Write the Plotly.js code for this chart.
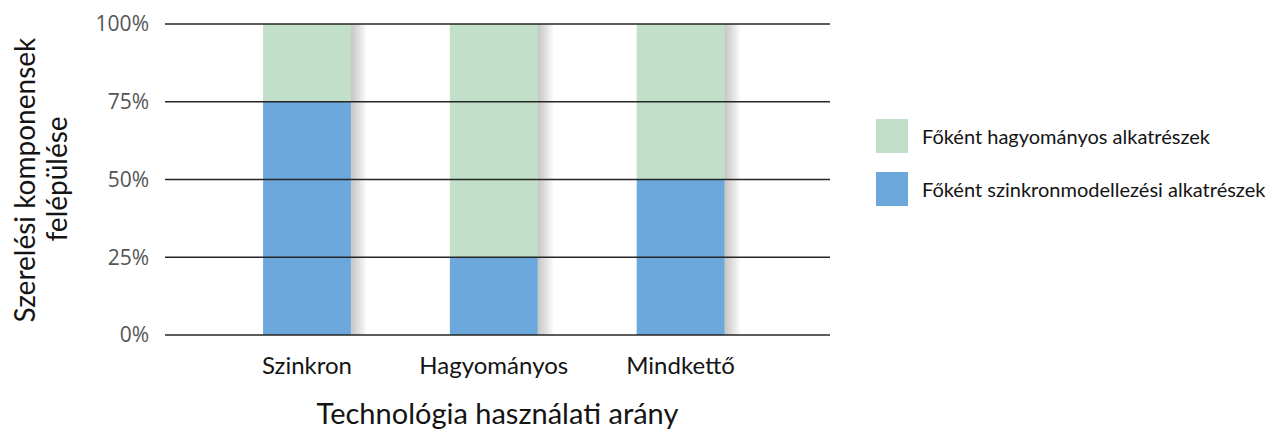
<!DOCTYPE html>
<html>
<head>
<meta charset="utf-8">
<script src="https://cdn.plot.ly/plotly-3.0.1.min.js"></script>
<style>html,body{margin:0;padding:0;background:#fff;}#chart{width:1285px;height:432px;}</style>
</head>
<body>
<div id="chart"></div>
<script>
const categories = ["Szinkron", "Hagyományos", "Mindkettő"];
const seriesNames = ["Főként szinkronmodellezési alkatrészek", "Főként hagyományos alkatrészek"];
const syncValues = [75, 25, 50];
const tradValues = [25, 75, 50];
const seriesColors = ["#6ca8db", "#c2e0c9"];
const yTickVals = [0, 25, 50, 75, 100];
const yTickText = ["0%", "25%", "50%", "75%", "100%"];
const yTitleLines = ["Szerelési komponensek", "felépülése"];
const xTitle = "Technológia használati arány";

const Y_MIN = 0, Y_MAX = 100;
const X_RANGE = [-0.76, 2.8];
const BAR_W = 0.47;
const PLOT_L = 165, PLOT_R = 830, PLOT_T = 24, PLOT_B = 335;
const PX = (X_RANGE[1] - X_RANGE[0]) / (PLOT_R - PLOT_L); // data units per pixel
const font = "Lato, 'Open Sans', sans-serif";

const totals = syncValues.map((v, i) => v + tradValues[i]);

// soft drop shadow behind bars (layers of translucent gray)
const shadowTraces = [1, 2, 3, 4, 5].map(k => {
  const depth = 0.6 * k;
  return {
    type: "bar", x: categories, y: totals.map(t => t + depth), base: categories.map(() => -depth),
    width: BAR_W, offset: -BAR_W / 2 + 3 * k * PX,
    marker: {color: "rgba(0,0,0,0.042)", line: {width: 0}},
    cliponaxis: false, showlegend: false, hoverinfo: "skip"
  };
});

const traces = shadowTraces.concat([
  {type: "bar", name: seriesNames[0], x: categories, y: syncValues, base: categories.map(() => 0),
   marker: {color: seriesColors[0], line: {width: 0}}, width: BAR_W, offset: -BAR_W / 2,
   cliponaxis: false, showlegend: false, hoverinfo: "skip"},
  {type: "bar", name: seriesNames[1], x: categories, y: tradValues, base: syncValues,
   marker: {color: seriesColors[1], line: {width: 0}}, width: BAR_W, offset: -BAR_W / 2,
   cliponaxis: false, showlegend: false, hoverinfo: "skip"}
]);

// gridlines drawn above the bars, as in the reference
const shapes = yTickVals.map(v => {
  const p = (v - Y_MIN) / (Y_MAX - Y_MIN);
  return {type: "line", xref: "paper", yref: "paper", x0: 0, x1: 1, y0: p, y1: p,
    line: {color: "#262626", width: 1.7}, layer: "above"};
});

const W = PLOT_R - PLOT_L, H = PLOT_B - PLOT_T;
const annotations = [];

// legend with large swatches (top item = second series)
const legendOrder = [1, 0];
legendOrder.forEach((si, i) => {
  const yc = 136 + i * 53;
  shapes.push({type: "rect", xref: "paper", yref: "paper",
    x0: (876 - PLOT_L) / W, x1: (908 - PLOT_L) / W,
    y0: (PLOT_B - (yc + 17)) / H, y1: (PLOT_B - (yc - 17)) / H,
    fillcolor: seriesColors[si], line: {width: 0}});
  annotations.push({xref: "paper", yref: "paper", x: (920 - PLOT_L) / W, y: (PLOT_B - yc) / H,
    xanchor: "left", yanchor: "middle", showarrow: false, text: seriesNames[si],
    font: {family: font, size: 20, color: "#141414"}});
});

// two-line y-axis title with tight line spacing
yTitleLines.forEach((t, i) => {
  const xc = 23 + i * 32;
  annotations.push({xref: "paper", yref: "paper", x: (xc - PLOT_L) / W, y: 0.5,
    xanchor: "center", yanchor: "middle", textangle: -90, showarrow: false, text: t,
    font: {family: font, size: 28, color: "#141414"}});
});

const layout = {
  width: 1285, height: 432,
  margin: {l: PLOT_L, r: 1285 - PLOT_R, t: PLOT_T, b: 432 - PLOT_B},
  paper_bgcolor: "#fff", plot_bgcolor: "#fff",
  barmode: "overlay",
  showlegend: false,
  xaxis: {type: "category", range: X_RANGE, showgrid: false, zeroline: false, showline: false,
    ticks: "", ticklabelstandoff: 14,
    tickfont: {family: font, size: 24, color: "#141414"},
    title: {text: xTitle, font: {family: font, size: 29, color: "#141414"}, standoff: 25}},
  yaxis: {range: [Y_MIN, Y_MAX], tickvals: yTickVals, ticktext: yTickText, showgrid: false, zeroline: false,
    showline: false, ticks: "", ticklabelstandoff: 15,
    tickfont: {family: "'Open Sans', sans-serif", size: 21, color: "#555"}},
  shapes: shapes,
  annotations: annotations
};

Plotly.newPlot("chart", traces, layout, {displayModeBar: false, staticPlot: true});
</script>
</body>
</html>
